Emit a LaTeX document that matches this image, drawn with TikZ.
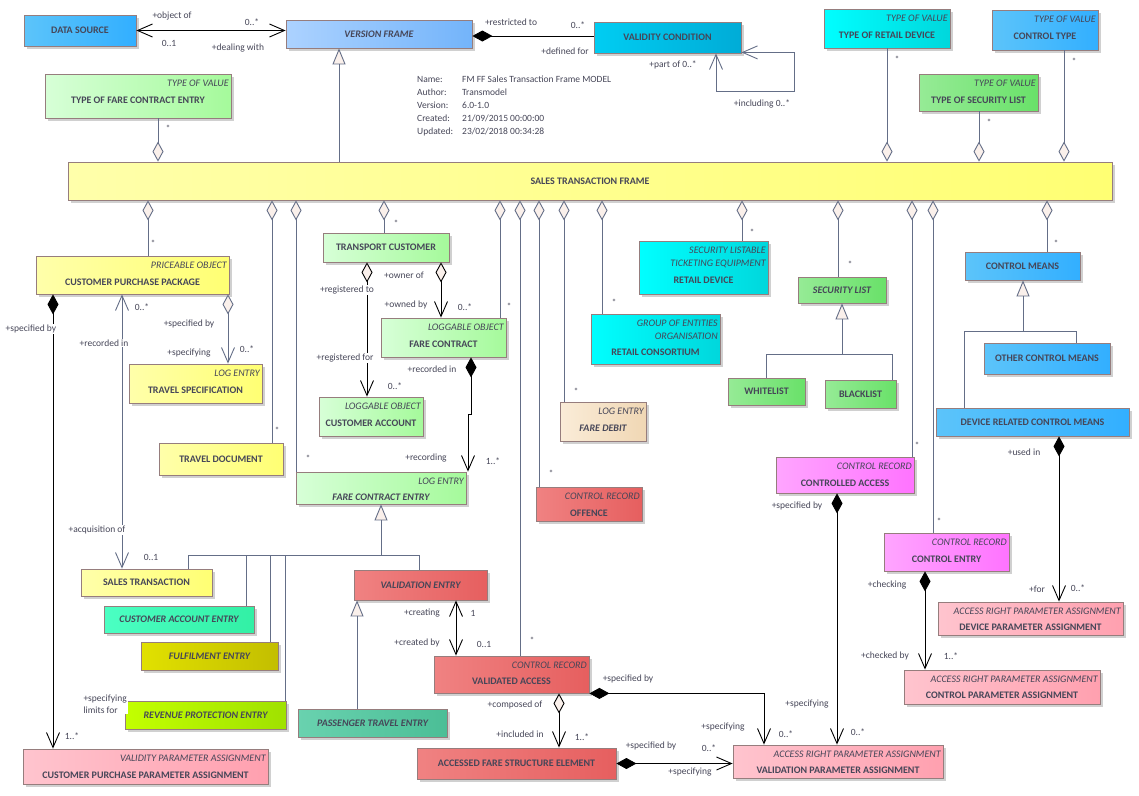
\documentclass[tikz,border=0pt]{standalone}
\usepackage{fontspec}
\setmainfont{Carlito}
\usetikzlibrary{arrows.meta, shadows}
\definecolor{boxline}{RGB}{150, 125, 125}
\definecolor{txtgray}{RGB}{70, 70, 88}
\definecolor{linegray}{RGB}{100, 110, 135}
\definecolor{diafill}{RGB}{250, 240, 235}
\definecolor{shadowgray}{RGB}{208, 208, 208}
\definecolor{skyblueA}{RGB}{92, 196, 250}
\definecolor{skyblueB}{RGB}{50, 175, 255}
\definecolor{paleblueA}{RGB}{172, 210, 255}
\definecolor{paleblueB}{RGB}{115, 180, 250}
\definecolor{deepcyanA}{RGB}{0, 205, 242}
\definecolor{deepcyanB}{RGB}{0, 172, 215}
\definecolor{cyanA}{RGB}{0, 255, 255}
\definecolor{cyanB}{RGB}{0, 215, 220}
\definecolor{mintgreenA}{RGB}{215, 255, 215}
\definecolor{mintgreenB}{RGB}{165, 250, 155}
\definecolor{leafgreenA}{RGB}{150, 235, 150}
\definecolor{leafgreenB}{RGB}{105, 225, 105}
\definecolor{lemonA}{RGB}{255, 255, 170}
\definecolor{lemonB}{RGB}{255, 255, 115}
\definecolor{sandA}{RGB}{250, 236, 216}
\definecolor{sandB}{RGB}{240, 215, 180}
\definecolor{orchidA}{RGB}{255, 165, 255}
\definecolor{orchidB}{RGB}{255, 115, 255}
\definecolor{salmonA}{RGB}{240, 130, 130}
\definecolor{salmonB}{RGB}{230, 95, 95}
\definecolor{rosepinkA}{RGB}{255, 196, 206}
\definecolor{rosepinkB}{RGB}{255, 160, 175}
\definecolor{aquaA}{RGB}{75, 255, 195}
\definecolor{aquaB}{RGB}{50, 240, 165}
\definecolor{mossA}{RGB}{225, 225, 0}
\definecolor{mossB}{RGB}{195, 190, 0}
\definecolor{limeA}{RGB}{195, 255, 0}
\definecolor{limeB}{RGB}{160, 225, 0}
\definecolor{sagetealA}{RGB}{105, 210, 175}
\definecolor{sagetealB}{RGB}{75, 190, 150}
\tikzset{
  >=Stealth,
  assoc_line/.style={line width=0.9pt, black},
  assocarrow_both/.style={assoc_line, {Straight Barb[length=15pt, width=13pt]}-{Straight Barb[length=15pt, width=13pt]}},
  assocarrow_both_gray/.style={assocarrow_both, linegray},
  comparrow/.style={assoc_line, {Diamond[length=20pt, width=11pt]}-{Straight Barb[length=15pt, width=13pt]}},
  compline/.style={assoc_line, {Diamond[length=20pt, width=11pt]}-},
  aggarrow/.style={assoc_line, {Diamond[length=20pt, width=11pt, fill=diafill]}-{Straight Barb[length=15pt, width=13pt]}},
  aggarrow_gray/.style={aggarrow, linegray},
  agg_up/.style={line width=0.9pt, linegray, -{Diamond[length=20pt, width=11pt, fill=diafill]}},
  agg_down/.style={line width=0.9pt, linegray, {Diamond[length=20pt, width=11pt, fill=diafill]}-},
  genarrow/.style={line width=0.9pt, linegray, -{Triangle[length=16pt, width=13pt, fill=diafill]}},
  genline/.style={line width=0.9pt, linegray}
}
\begin{document}
\begin{tikzpicture}[
    x=1pt, y=-1pt,
    cls/.style={rectangle, draw=boxline, line width=0.8pt, inner sep=0pt, text=txtgray, font=\fontsize{10}{12}\selectfont\bfseries, drop shadow={shadow xshift=3pt, shadow yshift=-3pt, fill=shadowgray, opacity=1}},
    boxsize/.style 2 args={minimum width=#1pt, minimum height=#2pt},
    stbox/.style={text height=20pt, text depth=0pt},
    itname/.style={font=\fontsize{10}{12}\selectfont\bfseries\itshape},
    stereo/.style={anchor=north east, inner xsep=2.5pt, inner ysep=6pt, align=right, text=txtgray, font=\fontsize{10}{13}\selectfont\itshape},
    role/.style={fill=white, inner sep=0.8pt, text=txtgray, font=\fontsize{9.5}{12}\selectfont},
    mult/.style={role, font=\fontsize{9}{10}\selectfont},
    meta/.style={inner sep=0pt, text=txtgray, font=\fontsize{9.5}{13}\selectfont},
    skycls/.style={cls, left color=skyblueA, right color=skyblueB},
    palecls/.style={cls, left color=paleblueA, right color=paleblueB},
    deepcyancls/.style={cls, left color=deepcyanA, right color=deepcyanB},
    cyancls/.style={cls, left color=cyanA, right color=cyanB},
    mintcls/.style={cls, left color=mintgreenA, right color=mintgreenB},
    greencls/.style={cls, left color=leafgreenA, right color=leafgreenB},
    lemoncls/.style={cls, left color=lemonA, right color=lemonB},
    sandcls/.style={cls, left color=sandA, right color=sandB},
    orchidcls/.style={cls, left color=orchidA, right color=orchidB},
    salmoncls/.style={cls, left color=salmonA, right color=salmonB},
    rosecls/.style={cls, left color=rosepinkA, right color=rosepinkB},
    aquacls/.style={cls, left color=aquaA, right color=aquaB},
    mosscls/.style={cls, left color=mossA, right color=mossB},
    limecls/.style={cls, left color=limeA, right color=limeB},
    sagecls/.style={cls, left color=sagetealA, right color=sagetealB}
]
    \useasboundingbox[fill=white] (0,0) rectangle (1139,795);

    % Version frame and neighbours
    \node[skycls, boxsize={112}{31}] (ds) at (80,30.5) {DATA SOURCE};
    \node[palecls, itname, boxsize={186}{28}] (vf) at (379,34) {VERSION FRAME};
    \node[deepcyancls, boxsize={147}{31}] (vc) at (667.5,37.5) {VALIDITY CONDITION};
    \node[meta, anchor=north west] (model) at (417,73) {\begin{tabular}{@{}p{45pt}@{}l@{}}
        Name: & FM FF Sales Transaction Frame MODEL\\
        Author: & Transmodel\\
        Version: & 6.0-1.0\\
        Created: & 21/09/2015 00:00:00\\
        Updated: & 23/02/2018 00:34:28
    \end{tabular}};

    % Types of value
    \node[mintcls, stbox, text height=14.5pt, boxsize={186}{44}, label={[stereo]north east:TYPE OF VALUE}] (tfce) at (138,96) {TYPE OF FARE CONTRACT ENTRY};
    \node[cyancls, stbox, text height=19.5pt, boxsize={126}{39}, label={[stereo]north east:TYPE OF VALUE}] (tord) at (887,28.5) {TYPE OF RETAIL DEVICE};
    \node[greencls, stbox, text height=21.5pt, boxsize={119}{37}, label={[stereo]north east:TYPE OF VALUE}] (tosl) at (978.5,92.5) {TYPE OF SECURITY LIST};
    \node[skycls, stbox, text height=18.5pt, boxsize={106}{40}, label={[stereo]north east:TYPE OF VALUE}] (ctype) at (1045,30) {CONTROL TYPE};

    % Frame
    \node[lemoncls, boxsize={1044}{38}] (stf) at (590,181) {SALES TRANSACTION FRAME};

    % Customer side
    \node[lemoncls, stbox, text height=20.5pt, boxsize={193}{38}, label={[stereo]north east:PRICEABLE OBJECT}] (cpp) at (132.5,275) {CUSTOMER PURCHASE PACKAGE};
    \node[lemoncls, stbox, text height=19.5pt, boxsize={133}{39}, label={[stereo]north east:LOG ENTRY}] (ts) at (195.5,383.5) {TRAVEL SPECIFICATION};
    \node[lemoncls, boxsize={124}{32}] (td) at (221,459) {TRAVEL DOCUMENT};
    \node[mintcls, boxsize={126}{29}] (tc) at (386,247.5) {TRANSPORT CUSTOMER};
    \node[mintcls, stbox, text height=19.5pt, boxsize={125}{39}, label={[stereo]north east:LOGGABLE OBJECT}] (fc) at (443.5,337.5) {FARE CONTRACT};
    \node[mintcls, stbox, text height=19.5pt, boxsize={104}{39}, label={[stereo]north east:LOGGABLE OBJECT}] (ca) at (371,416.5) {CUSTOMER ACCOUNT};
    \node[mintcls, itname, stbox, text height=24.5pt, boxsize={170}{32}, label={[stereo]north east:LOG ENTRY}] (fce) at (381,488) {FARE CONTRACT ENTRY};

    % Retail and security
    \node[cyancls, stbox, text height=31.5pt, boxsize={129}{53}, label={[stereo]north east:{SECURITY LISTABLE\\TICKETING EQUIPMENT}}] (rd) at (703.5,267.5) {RETAIL DEVICE};
    \node[cyancls, stbox, text height=32.5pt, boxsize={129}{50}, label={[stereo]north east:{GROUP OF ENTITIES\\ORGANISATION}}] (rc) at (655.5,339) {RETAIL CONSORTIUM};
    \node[sandcls, itname, stbox, text height=19.5pt, boxsize={86}{39}, label={[stereo]north east:LOG ENTRY}] (fd) at (603,421.5) {FARE DEBIT};
    \node[greencls, itname, boxsize={88}{26}] (sl) at (842,290) {SECURITY LIST};
    \node[greencls, boxsize={77}{27}] (wl) at (766.5,391.5) {WHITELIST};
    \node[greencls, boxsize={71}{28}] (bl) at (860.5,394) {BLACKLIST};

    % Control means and control records
    \node[skycls, boxsize={115}{28}] (cm) at (1022.5,266) {CONTROL MEANS};
    \node[skycls, boxsize={126}{31}] (ocm) at (1047,358.5) {OTHER CONTROL MEANS};
    \node[skycls, boxsize={193}{28}] (drcm) at (1032.5,422) {DEVICE RELATED CONTROL MEANS};
    \node[orchidcls, stbox, text height=22.5pt, boxsize={138}{36}, label={[stereo]north east:CONTROL RECORD}] (cacc) at (845,475) {CONTROLLED ACCESS};
    \node[orchidcls, stbox, text height=20.5pt, boxsize={125}{38}, label={[stereo]north east:CONTROL RECORD}] (ce) at (946.5,552) {CONTROL ENTRY};
    \node[rosecls, stbox, text height=23.5pt, boxsize={185}{33}, label={[stereo]north east:ACCESS RIGHT PARAMETER ASSIGNMENT}] (dpa) at (1030.5,618.5) {DEVICE PARAMETER ASSIGNMENT};
    \node[rosecls, stbox, text height=22.5pt, boxsize={196}{34}, label={[stereo]north east:ACCESS RIGHT PARAMETER ASSIGNMENT}] (cpa) at (1002,687) {CONTROL PARAMETER ASSIGNMENT};
    \node[rosecls, stbox, text height=23.5pt, boxsize={210}{33}, label={[stereo]north east:ACCESS RIGHT PARAMETER ASSIGNMENT}] (vpa) at (838,761.5) {VALIDATION PARAMETER ASSIGNMENT};

    % Validation
    \node[salmoncls, stbox, text height=24.5pt, boxsize={106}{34}, label={[stereo]north east:CONTROL RECORD}] (off) at (589,504) {OFFENCE};
    \node[salmoncls, itname, boxsize={133}{30}] (ve) at (420.5,585) {VALIDATION ENTRY};
    \node[salmoncls, stbox, text height=19.5pt, boxsize={155}{37}, label={[stereo]north east:CONTROL RECORD}] (va) at (511.5,674.5) {VALIDATED ACCESS};
    \node[salmoncls, boxsize={199}{31}] (afse) at (516.5,763.5) {ACCESSED FARE STRUCTURE ELEMENT};

    % Fare contract entries
    \node[lemoncls, boxsize={131}{27}] (st) at (146.5,582.5) {SALES TRANSACTION};
    \node[aquacls, itname, boxsize={150}{27}] (cae) at (179,619.5) {CUSTOMER ACCOUNT ENTRY};
    \node[mosscls, itname, boxsize={137}{28}] (fe) at (209.5,656) {FULFILMENT ENTRY};
    \node[limecls, itname, boxsize={161}{28}] (rpe) at (205.5,715) {REVENUE PROTECTION ENTRY};
    \node[sagecls, itname, boxsize={149}{28}] (pte) at (372.5,723) {PASSENGER TRAVEL ENTRY};
    \node[rosecls, stbox, text height=23.5pt, boxsize={245}{35}, label={[stereo]north east:VALIDITY PARAMETER ASSIGNMENT}] (cppa) at (145.5,766.5) {CUSTOMER PURCHASE PARAMETER ASSIGNMENT};

    % Version frame links
    \draw[assocarrow_both] (ds.east) -- (ds.east -| vf.west);
    \draw[compline] (vf.east |- 0,36) -- (vc.west |- 0,36);
    \draw[assocarrow_both_gray] ([yshift=1pt]vc.south east) -- ++(53,0) |- (716,91) -- (716,0 |- vc.south);
    \draw[genarrow] (339,0 |- stf.north) -- (339,0 |- vf.south);

    % Aggregations above the frame
    \draw[agg_up] (158,0 |- tfce.south) -- (158,0 |- stf.north);
    \draw[agg_up] (887,0 |- tord.south) -- (887,0 |- stf.north);
    \draw[agg_up] (979,0 |- tosl.south) -- (979,0 |- stf.north);
    \draw[agg_up] (1064,0 |- ctype.south) -- (1064,0 |- stf.north);

    % Aggregations below the frame
    \draw[agg_down] (148,0 |- stf.south) -- (148,0 |- cpp.north);
    \draw[agg_down] (272,0 |- stf.south) -- (272,0 |- td.north);
    \draw[agg_down] (296,0 |- stf.south) -- (296,0 |- fce.north);
    \draw[agg_down] (384,0 |- stf.south) -- (384,0 |- tc.north);
    \draw[agg_down] (500,0 |- stf.south) -- (500,0 |- fc.north);
    \draw[agg_down] (520,0 |- stf.south) -- (520,0 |- va.north);
    \draw[agg_down] (539,0 |- stf.south) -- (539,0 |- off.north);
    \draw[agg_down] (564,0 |- stf.south) -- (564,0 |- fd.north);
    \draw[agg_down] (602,0 |- stf.south) -- (602,0 |- rc.north);
    \draw[agg_down] (742,0 |- stf.south) -- (742,0 |- rd.north);
    \draw[agg_down] (838,0 |- stf.south) -- (838,0 |- sl.north);
    \draw[agg_down] (912,0 |- stf.south) -- (912,0 |- cacc.north);
    \draw[agg_down] (933,0 |- stf.south) -- (933,0 |- ce.north);
    \draw[agg_down] (1047,0 |- stf.south) -- (1047,0 |- cm.north);

    % Customer links
    \draw[aggarrow_gray] (228,0 |- cpp.south) -- (228,0 |- ts.north);
    \draw[comparrow] (53,0 |- cpp.south) -- (53,0 |- cppa.north);
    \draw[assocarrow_both_gray] (122,0 |- cpp.south) -- (122,0 |- st.north);
    \draw[aggarrow] (441,0 |- tc.south) -- (441,0 |- fc.north);
    \draw[aggarrow] (367,0 |- tc.south) -- (367,0 |- ca.north);
    \draw[comparrow] (471,0 |- fc.south) -- (471,414) -- (468,414) -- (468,0 |- fce.north);

    % Generalisations
    \coordinate (fcejoin) at (381,555);
    \draw[genarrow] (fcejoin) -- (fcejoin |- fce.south);
    \draw[genline] (188,0 |- st.north) -- (188,555) -- (419,555) -- (419,0 |- ve.north);
    \draw[genline] (246,0 |- cae.north) -- (246,555);
    \draw[genline] (270,0 |- fe.north) -- (270,555);
    \draw[genline] (285,0 |- rpe.north) -- (285,555);
    \draw[genarrow] (357,0 |- pte.north) -- (357,0 |- ve.south);
    \coordinate (sljoin) at (842,354);
    \draw[genarrow] (sljoin) -- (sljoin |- sl.south);
    \draw[genline] (766,0 |- wl.north) |- (892,354) -- (892,0 |- bl.north);
    \coordinate (cmjoin) at (1023,331);
    \draw[genarrow] (cmjoin) -- (cmjoin |- cm.south);
    \draw[genline] (964,0 |- drcm.north) |- (1076,331) -- (1076,0 |- ocm.north);

    % Validation and control links
    \draw[assocarrow_both] (456,0 |- ve.south) -- (456,0 |- va.north);
    \draw[aggarrow] (559,0 |- va.south) -- (559,0 |- afse.north);
    \draw[comparrow] (va.south east) -| (764,0 |- vpa.north);
    \draw[comparrow] (afse.east) -- (afse.east -| vpa.west);
    \draw[comparrow] (837,0 |- cacc.south) -- (837,0 |- vpa.north);
    \draw[comparrow] (925,0 |- ce.south) -- (925,0 |- cpa.north);
    \draw[comparrow] (1059,0 |- drcm.south) -- (1059,0 |- dpa.north);

    % Role names and multiplicities
    \node[role] (dsvf1) at (172,16) {+object of};
    \node[role] (dsvf2) at (252,22) {0..*};
    \node[role] (dsvf3) at (169,43) {0..1};
    \node[role] (dsvf4) at (238,48) {+dealing with};
    \node[role] (vfvc1) at (511,22) {+restricted to};
    \node[role] (vfvc2) at (578,25) {0..*};
    \node[role] (vfvc3) at (565,51) {+defined for};
    \node[role] (vcvc1) at (673,65) {+part of 0..*};
    \node[role] (vcvc2) at (762,104) {+including 0..*};
    \node[role] (cppts1) at (189,324) {+specified by};
    \node[role] (cppts2) at (189,353) {+specifying};
    \node[role] (cppts3) at (247,349) {0..*};
    \node[role] (cppa1) at (31,329) {+specified by};
    \node[role] (cppa2) at (72,736) {1..*};
    \node[role, anchor=west, align=left] (cppa3) at (82.5,704) {+specifying\\limits for};
    \node[role] (cppst1) at (142,307) {0..*};
    \node[role] (cppst2) at (104,343) {+recorded in};
    \node[role] (cppst3) at (97,530) {+acquisition of};
    \node[role] (cppst4) at (151,557) {0..1};
    \node[role] (tcfc1) at (404,275) {+owner of};
    \node[role] (tcfc2) at (406,305) {+owned by};
    \node[role] (tcfc3) at (465,307) {0..*};
    \node[role] (tcca1) at (347,290) {+registered to};
    \node[role] (tcca2) at (345,358) {+registered for};
    \node[role] (tcca3) at (395,386) {0..*};
    \node[role] (fcfce1) at (432,369) {+recorded in};
    \node[role] (fcfce2) at (426,458) {+recording};
    \node[role] (fcfce3) at (493,461) {1..*};
    \node[role] (veva1) at (422,613) {+creating};
    \node[role] (veva2) at (473,613) {1};
    \node[role] (veva3) at (417,643) {+created by};
    \node[role] (veva4) at (484,644) {0..1};
    \node[role] (vaaf1) at (515,705) {+composed of};
    \node[role] (vaaf2) at (520,734) {+included in};
    \node[role] (vaaf3) at (582,737) {1..*};
    \node[role] (vavp1) at (628,679) {+specified by};
    \node[role] (vavp2) at (723,727) {+specifying};
    \node[role] (vavp3) at (786,734) {0..*};
    \node[role] (afvp1) at (651,746) {+specified by};
    \node[role] (afvp2) at (709,748) {0..*};
    \node[role] (afvp3) at (690,772) {+specifying};
    \node[role] (cavp1) at (797,506) {+specified by};
    \node[role] (cavp2) at (807,704) {+specifying};
    \node[role] (cavp3) at (858,732) {0..*};
    \node[role] (cecp1) at (887,585) {+checking};
    \node[role] (cecp2) at (885,656) {+checked by};
    \node[role] (cecp3) at (951,656) {1..*};
    \node[role] (dmdp1) at (1024,452) {+used in};
    \node[role] (dmdp2) at (1037,589) {+for};
    \node[role] (dmdp3) at (1078,588) {0..*};

    % Frame multiplicities
    \node[mult] (m1) at (168,128) {*};
    \node[mult] (m2) at (897,59) {*};
    \node[mult] (m3) at (1074,61) {*};
    \node[mult] (m4) at (989,122) {*};
    \node[mult] (m5) at (153,243) {*};
    \node[mult] (m6) at (277,430) {*};
    \node[mult] (m7) at (308,458) {*};
    \node[mult] (m8) at (396,223) {*};
    \node[mult] (m9) at (509,306) {*};
    \node[mult] (m10) at (532,640) {*};
    \node[mult] (m11) at (551,473) {*};
    \node[mult] (m12) at (576,391) {*};
    \node[mult] (m13) at (614,302) {*};
    \node[mult] (m14) at (752,232) {*};
    \node[mult] (m15) at (850,264) {*};
    \node[mult] (m16) at (917,445) {*};
    \node[mult] (m17) at (939,521) {*};
    \node[mult] (m18) at (1056,243) {*};
\end{tikzpicture}
\end{document}
